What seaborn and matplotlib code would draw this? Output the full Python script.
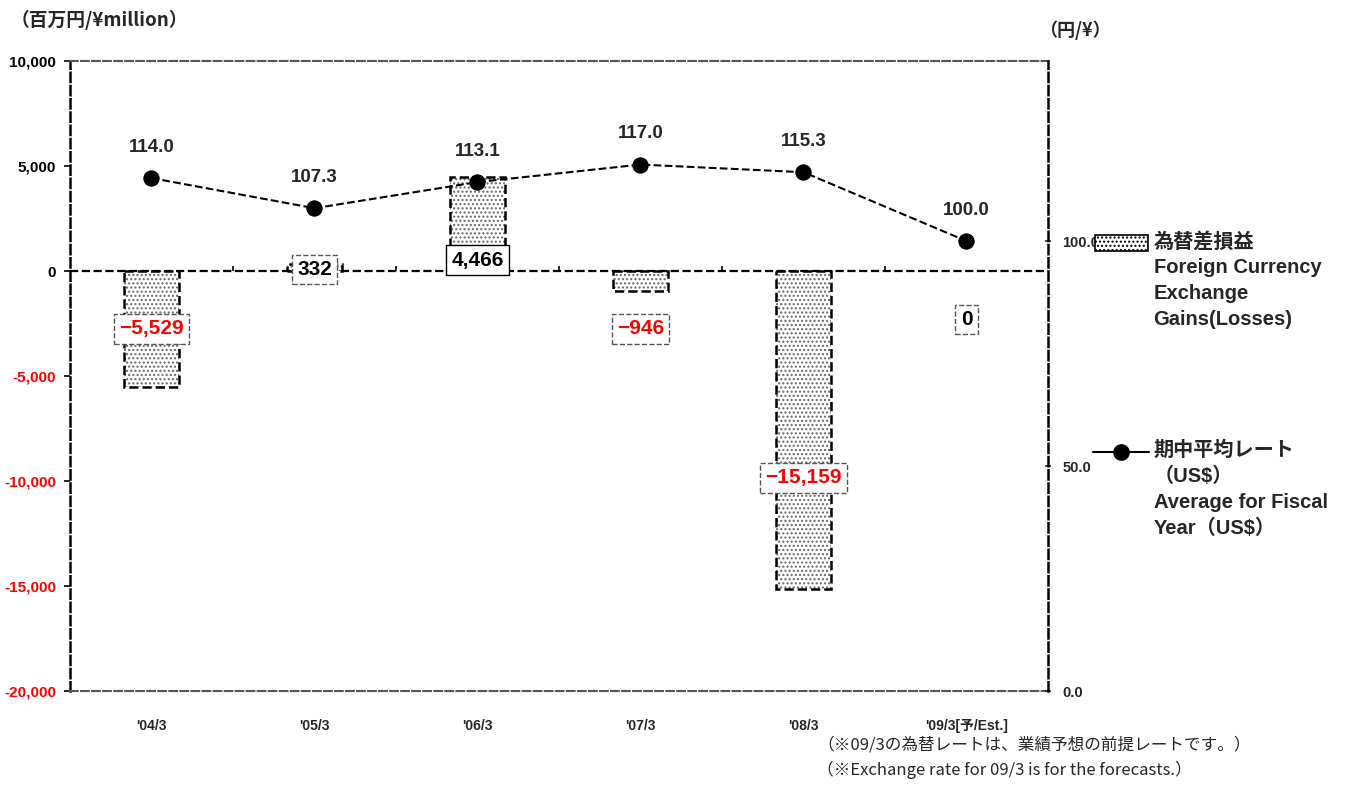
from matplotlib import pyplot as plt
from matplotlib.patches import Rectangle
from matplotlib.lines import Line2D
import numpy as np
import pandas as pd
import seaborn as sns

periods = ["'04/3", "'05/3", "'06/3", "'07/3", "'08/3", "'09/3[予/Est.]"]
fx_gain = [-5529, 332, 4466, -946, -15159, 0]
avg_rate = [114.0, 107.3, 113.1, 117.0, 115.3, 100.0]
gain_labels = ["−5,529", "332", "4,466", "−946", "−15,159", "0"]
rate_labels = ["114.0", "107.3", "113.1", "117.0", "115.3", "100.0"]
left_ticks = [10000, 5000, 0, -5000, -10000, -15000, -20000]
right_ticks = [0, 50, 100]

sns.set_theme(style="white")
plt.rcParams['font.family'] = ['Liberation Sans', 'Noto Sans CJK JP', 'DejaVu Sans']
mixed = ['Liberation Sans', 'Noto Sans CJK JP', 'DejaVu Sans']
cjk = ['Noto Sans CJK JP', 'DejaVu Sans']

df = pd.DataFrame({'period': periods, 'gain': fx_gain, 'rate': avg_rate})

fig = plt.figure(figsize=(13.46, 7.93), dpi=100)
ax = fig.add_axes([0.052, 0.1286, 0.7266, 0.7944])

# hatched fill, then dashed outline on top
sns.barplot(data=df, x='period', y='gain', order=periods, color='white',
            width=0.34, hatch='....', edgecolor='#666666', linewidth=0, ax=ax)
sns.barplot(data=df, x='period', y='gain', order=periods, fill=False,
            width=0.34, edgecolor='black', linewidth=1.8, linestyle='--', ax=ax)
for p in ax.patches:
    if p.get_height() == 0:
        p.set_visible(False)

ax.set_xlim(-0.5, 5.5)
ax.set_ylim(-20000, 10000)
ax.set_yticks(left_ticks)
ax.set_yticklabels([f"{v:,}" for v in left_ticks], fontsize=11, fontweight='bold')
for lab, v in zip(ax.get_yticklabels(), left_ticks):
    lab.set_color('red' if v < 0 else 'black')
ax.tick_params(axis='y', length=4, width=1.2, color='black', left=True, pad=6)
ax.tick_params(axis='x', length=0, pad=20)
ax.set_xticklabels(periods, fontsize=10, fontweight='bold')
ax.set_xlabel('')
ax.set_ylabel('')

ax.axhline(0, color='black', ls='--', lw=1.6, zorder=1)
ax.vlines(np.arange(0.5, 5.5, 1.0), 0, 250, color='black', lw=1.2)

for side in ['left', 'right', 'top', 'bottom']:
    ax.spines[side].set_linestyle('--')
ax.spines['left'].set_color('black')
ax.spines['left'].set_linewidth(1.8)
ax.spines['top'].set_color('#555555')
ax.spines['top'].set_linewidth(1.5)
ax.spines['bottom'].set_color('#555555')
ax.spines['bottom'].set_linewidth(1.5)
ax.spines['right'].set_visible(False)

# value boxes for the bars
label_pos = [-2750, 80, 520, -2750, -9850, -2300]
for i, (txt, y, v) in enumerate(zip(gain_labels, label_pos, fx_gain)):
    solid = txt == "4,466"
    ax.text(i, y, txt, ha='center', va='center', fontsize=15, fontweight='bold',
            color='red' if v < 0 else 'black', zorder=5,
            bbox=dict(boxstyle='square,pad=0.25', fc='white',
                      ec='black' if solid else '#555555',
                      ls='-' if solid else '--', lw=1.0))

ax2 = ax.twinx()
sns.lineplot(x=np.arange(len(periods)), y=avg_rate, ax=ax2, color='black',
             linestyle='--', lw=1.5, marker='o', markersize=11,
             markeredgecolor='black')
ax2.set_ylim(0, 140)
ax2.set_xlim(-0.5, 5.5)
ax2.set_yticks(right_ticks)
ax2.set_yticklabels(["0.0", "50.0", "100.0"], fontsize=10.5, fontweight='bold')
ax2.tick_params(axis='y', length=5, width=1.2, direction='inout', right=True, pad=8)
for side in ['left', 'top', 'bottom']:
    ax2.spines[side].set_visible(False)
ax2.spines['right'].set_linestyle('--')
ax2.spines['right'].set_color('black')
ax2.spines['right'].set_linewidth(1.8)
for i, (txt, v) in enumerate(zip(rate_labels, avg_rate)):
    ax2.text(i, v + 6.8, txt, ha='center', va='center', fontsize=13.5, fontweight='bold')

fig.text(0.008, 0.975, "（百万円/¥million）", fontsize=13.5, fontweight='bold',
         family=cjk, va='center')
fig.text(0.772, 0.962, "（円/¥）", fontsize=13, fontweight='bold',
         family=cjk, va='center')

# legend, drawn by hand so the handles sit by the first line
fig.patches.append(Rectangle((0.8135, 0.684), 0.0395, 0.02, transform=fig.transFigure,
                             facecolor='white', edgecolor='black', hatch='....', lw=1.2))
fig.text(0.857, 0.708, "為替差損益\nForeign Currency\nExchange\nGains(Losses)",
         fontsize=14.5, fontweight='bold', family=mixed, va='top', linespacing=1.45)
fig.lines.append(Line2D([0.812, 0.854], [0.430, 0.430], transform=fig.transFigure,
                        color='black', lw=1.5))
fig.lines.append(Line2D([0.833], [0.430], transform=fig.transFigure, color='black',
                        marker='o', markersize=11))
fig.text(0.857, 0.445, "期中平均レート\n（US$）\nAverage for Fiscal\nYear（US$）",
         fontsize=14.5, fontweight='bold', family=mixed, va='top', linespacing=1.45)

fig.text(0.607, 0.06, "（※09/3の為替レートは、業績予想の前提レートです。）",
         fontsize=12, family=cjk, va='center')
fig.text(0.607, 0.029, "（※Exchange rate for 09/3 is for the forecasts.）",
         fontsize=12, family=cjk, va='center')

fig.savefig('out.png', dpi=100)
